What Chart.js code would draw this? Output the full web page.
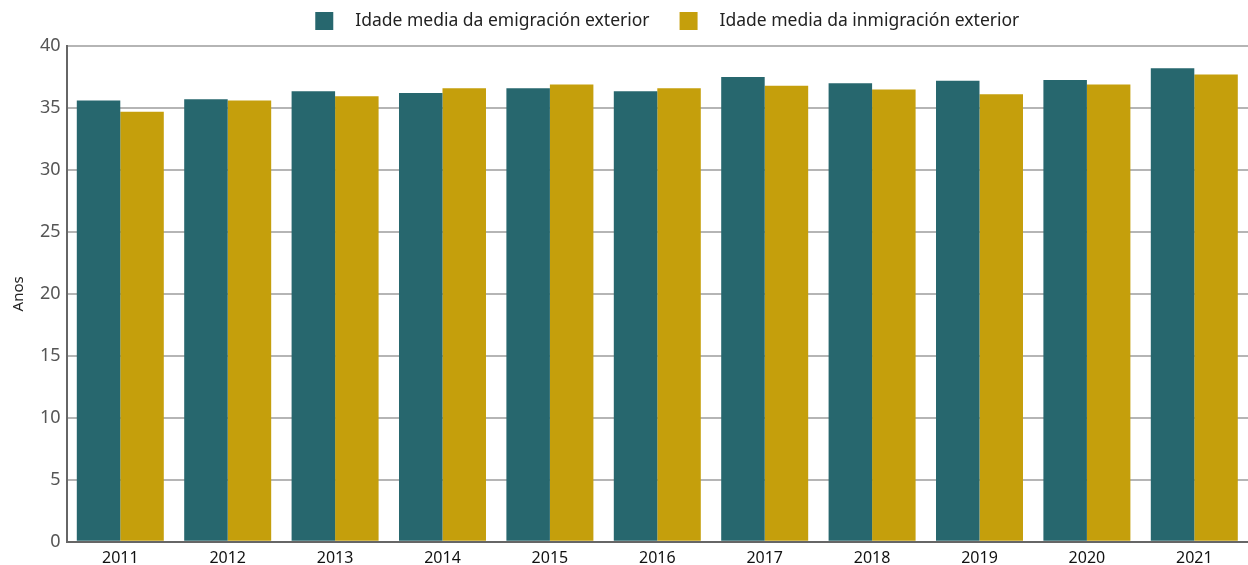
<!DOCTYPE html>
<html lang="gl">
  <head>
    <meta charset="UTF-8" />
    <title>Idade media da migración exterior</title>
    <style>
      body { margin: 0; background: #fff; }
      #wrap { width: 1248px; height: 565px; }
    </style>
  </head>
  <script src="https://cdn.jsdelivr.net/npm/chart.js@4.4.0/dist/chart.umd.min.js"></script>
  <body>
    <div id="wrap"><canvas id="idade-chart"></canvas></div>
    <script>
      const years = ['2011', '2012', '2013', '2014', '2015', '2016', '2017', '2018', '2019', '2020', '2021'];
      const emigracion = [35.6, 35.7, 36.35, 36.2, 36.6, 36.35, 37.5, 37.0, 37.2, 37.25, 38.2];
      const inmigracion = [34.7, 35.6, 35.95, 36.6, 36.9, 36.6, 36.8, 36.5, 36.1, 36.9, 37.7];

      const emiColor = '#27676e';
      const inmiColor = '#c59f0c';
      const fontFamily = 'Noto Sans';

      // simple top legend: square, gap, label; items centred a bit right of the plot centre
      const topLegend = {
        id: 'topLegend',
        afterDraw(chart) {
          const c = chart.ctx;
          const box = 18;
          const gap = 22;
          const spacing = 30;
          c.save();
          c.font = `17.5px "${fontFamily}"`;
          c.textBaseline = 'middle';
          const items = chart.data.datasets.map((ds) => ({
            text: ds.label,
            color: ds.backgroundColor,
            w: box + gap + c.measureText(ds.label).width
          }));
          const total = items.reduce((s, it) => s + it.w, 0) + spacing * (items.length - 1);
          const area = chart.chartArea;
          let x = (area.left + area.right) / 2 + 10 - total / 2;
          const y = 21;
          items.forEach((it) => {
            c.fillStyle = it.color;
            c.fillRect(x, y - box / 2, box, box);
            c.fillStyle = '#222';
            c.fillText(it.text, x + box + gap, y);
            x += it.w + spacing;
          });
          c.restore();
        }
      };

      const ctx = document.getElementById('idade-chart').getContext('2d');

      new Chart(ctx, {
        type: 'bar',
        data: {
          labels: years,
          datasets: [
            {
              label: 'Idade media da emigración exterior',
              data: emigracion,
              backgroundColor: emiColor,
              borderWidth: 0
            },
            {
              label: 'Idade media da inmigración exterior',
              data: inmigracion,
              backgroundColor: inmiColor,
              borderWidth: 0
            }
          ]
        },
        plugins: [topLegend],
        options: {
          responsive: true,
          maintainAspectRatio: false,
          animation: false,
          layout: { padding: { left: 10, right: 0, top: 46, bottom: -10 } },
          datasets: {
            bar: { categoryPercentage: 0.81, barPercentage: 1 }
          },
          plugins: {
            tooltip: { enabled: false },
            legend: { display: false }
          },
          scales: {
            x: {
              grid: { display: false, drawTicks: false },
              border: { display: true, color: '#666', width: 2 },
              ticks: {
                color: '#111',
                font: { family: fontFamily, size: 16 },
                padding: 7
              }
            },
            y: {
              min: 0,
              max: 40,
              ticks: {
                stepSize: 5,
                color: '#555',
                font: { family: fontFamily, size: 18 },
                padding: 6
              },
              grid: { color: '#b5b5b5', lineWidth: 2, drawTicks: false },
              border: { display: true, color: '#666', width: 2 },
              title: {
                display: true,
                text: 'Anos',
                color: '#222',
                font: { family: fontFamily, size: 15 },
                padding: { top: 0, bottom: 6 }
              }
            }
          }
        }
      });
    </script>
  </body>
</html>
